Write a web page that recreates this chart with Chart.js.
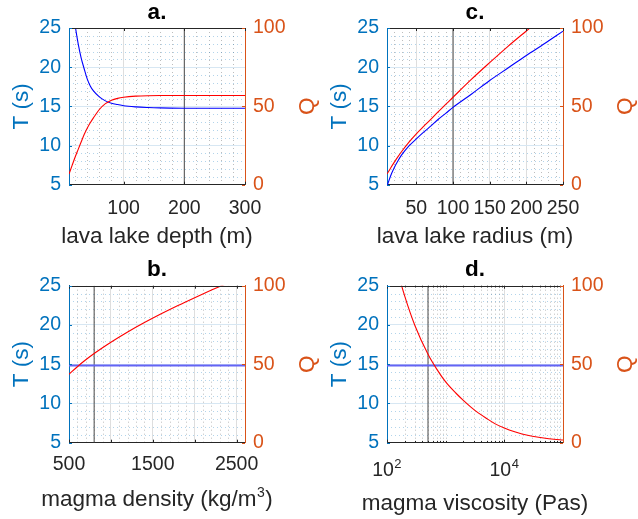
<!DOCTYPE html>
<html>
<head>
<meta charset="utf-8">
<script src="https://cdn.jsdelivr.net/npm/chart.js@4.4.0/dist/chart.umd.min.js"></script>
<style>
html,body{margin:0;padding:0;background:#ffffff;}
#wrap{position:relative;width:638px;height:519px;overflow:hidden;}
#wrap canvas{position:absolute;left:0;top:0;}
</style>
</head>
<body>
<div id="wrap">
<canvas id="pa" width="638" height="519"></canvas>
<canvas id="pc" width="638" height="519"></canvas>
<canvas id="pb" width="638" height="519"></canvas>
<canvas id="pd" width="638" height="519"></canvas>
</div>
<script>
// ---------- data ----------
// a. lava lake depth (m)
const depthX = [10,15,20,25,30,35,40,45,50,60,70,80,90,100,120,140,160,200,250,300];
const depthT = [32.3,28.4,25.4,23.05,21.2,19.8,18.5,17.6,17.0,16.2,15.7,15.4,15.23,15.08,14.93,14.85,14.8,14.76,14.75,14.75];
const depthQ = [6.8,12.2,17.5,22.4,27.2,32.0,36.0,39.5,42.5,48.0,51.7,53.9,55.1,55.8,56.5,56.8,56.9,56.9,56.9,56.9];
const depthMarker = 200;
const depthTicks = [100,200,300];
const depthTickLabels = ['100','200','300'];

// c. lava lake radius (m)
const radiusX = [10,15,20,25,30,40,50,60,70,80,90,100,125,150,175,200,225,250];
const radiusT = [4.8,6.15,7.2,8.05,8.8,9.95,10.85,11.7,12.5,13.35,14.1,14.87,16.55,18.3,19.9,21.5,23.02,24.6];
const radiusQ = [6.8,10.7,14.4,17.9,21.2,27.2,32.5,37.2,41.8,46.6,51.2,55.8,67.2,77.9,88.3,98.1,107.8,117];
const radiusMarker = 100;
const radiusTicks = [50,100,150,200,250];
const radiusTickLabels = ['50','100','150','200','250'];

// b. magma density (kg/m3)
const densityX = [500,600,700,800,900,1000,1200,1400,1600,1800,2000,2200,2400,2600];
const densityT = [14.85,14.85,14.85,14.85,14.85,14.85,14.85,14.85,14.85,14.85,14.85,14.85,14.85,14.85];
const densityQ = [43.6,48.4,52.8,56.8,60.5,64.0,70.5,76.5,82.1,87.4,92.4,97.2,101.8,106.2];
const densityMarker = 800;
const densityTicks = [500,1000,1500,2000,2500];
const densityTickLabels = ['500','','1500','','2500'];

// d. magma viscosity (Pas)
const viscX = [100,150,200,300,500,700,1000,1500,2000,3000,5000,7000,10000,15000,20000,30000,50000,70000,100000];
const viscT = [14.85,14.85,14.85,14.85,14.85,14.85,14.85,14.85,14.85,14.85,14.85,14.85,14.85,14.85,14.85,14.85,14.85,14.85,14.85];
const viscQ = [138,110,93.5,74.5,56.3,47.0,38.7,31.5,27.0,21.2,15.4,12.0,9.4,6.95,5.5,4.1,2.8,2.2,1.7];
const viscMarker = 500;
const viscTicks = [100,10000];
const viscTickLabels = ['10','10'];
const viscTickExponents = ['2','4'];

const tTicks = [5,10,15,20,25];
const tTickLabels = ['5','10','15','20','25'];
const qTicks = [0,50,100];
const qTickLabels = ['0','50','100'];

// ---------- style ----------
const FONT = "'Liberation Sans', Arial, Helvetica, sans-serif";
const BLUE_AX = '#0072BD';
const ORANGE_AX = '#D95319';
const DARK = '#262626';
const TICK_SIZE = 19.5;
const LABEL_SIZE = 22.5;

function range(a, b, step, skip) {
  const out = [];
  for (let v = a; v <= b + 1e-9; v += step) {
    if (!skip || !skip(v)) out.push(v);
  }
  return out;
}
const tMinor = range(6, 24, 1, v => v % 5 === 0);
const logMinor = [];
[100, 1000, 10000].forEach(d => { for (let m = 2; m <= 9; m++) logMinor.push(d * m); });
logMinor.push(1000);

const matlabFrame = {
  id: 'matlabFrame',
  beforeDatasetsDraw(chart, args, o) {
    const {ctx, chartArea: a, scales} = chart;
    const x = scales.x, y = scales.y;
    ctx.save();
    ctx.beginPath();
    ctx.rect(a.left, a.top, a.right - a.left, a.bottom - a.top);
    ctx.clip();
    ctx.lineWidth = 1;
    ctx.setLineDash([1, 3]);
    ctx.strokeStyle = 'rgba(38,38,38,0.30)';
    o.xMinor.forEach(v => {
      const p = Math.round(x.getPixelForValue(v)) + 0.5;
      ctx.beginPath(); ctx.moveTo(p, a.top); ctx.lineTo(p, a.bottom); ctx.stroke();
    });
    ctx.strokeStyle = 'rgba(0,114,189,0.30)';
    o.yMinor.forEach(v => {
      const p = Math.round(y.getPixelForValue(v)) + 0.5;
      ctx.beginPath(); ctx.moveTo(a.left, p); ctx.lineTo(a.right, p); ctx.stroke();
    });
    ctx.restore();
  },
  afterDatasetsDraw(chart, args, o) {
    const {ctx, chartArea: a, scales} = chart;
    const x = scales.x, y = scales.y, y1 = scales.y1;
    ctx.save();
    ctx.lineWidth = 1;
    ctx.strokeStyle = DARK;
    ctx.beginPath();
    ctx.moveTo(a.left, Math.round(a.top) + 0.5);
    ctx.lineTo(a.right, Math.round(a.top) + 0.5);
    ctx.stroke();
    const tick = (px, len, top) => {
      const p = Math.round(px) + 0.5;
      ctx.beginPath();
      if (top) { ctx.moveTo(p, a.top); ctx.lineTo(p, a.top + len); }
      else { ctx.moveTo(p, a.bottom); ctx.lineTo(p, a.bottom - len); }
      ctx.stroke();
    };
    o.xMajor.forEach(v => { const px = x.getPixelForValue(v); tick(px, 3, true); tick(px, 3, false); });
    (o.xMinorTicks || []).forEach(v => { const px = x.getPixelForValue(v); tick(px, 1.8, true); tick(px, 1.8, false); });
    ctx.strokeStyle = BLUE_AX;
    tTicks.forEach(v => {
      const p = Math.round(y.getPixelForValue(v)) + 0.5;
      ctx.beginPath(); ctx.moveTo(a.left, p); ctx.lineTo(a.left + 3, p); ctx.stroke();
    });
    ctx.strokeStyle = ORANGE_AX;
    qTicks.forEach(v => {
      const p = Math.round(y1.getPixelForValue(v)) + 0.5;
      ctx.beginPath(); ctx.moveTo(a.right, p); ctx.lineTo(a.right - 3, p); ctx.stroke();
    });
    ctx.restore();
  },
  afterDraw(chart, args, o) {
    const {ctx, chartArea: a, scales} = chart;
    const cx = (a.left + a.right) / 2;
    const cy = (a.top + a.bottom) / 2;
    ctx.save();
    // panel title
    ctx.font = 'bold ' + LABEL_SIZE + 'px ' + FONT;
    ctx.fillStyle = '#000000';
    ctx.textAlign = 'left';
    ctx.textBaseline = 'alphabetic';
    ctx.fillText(o.title, cx - ctx.measureText(o.title).width / 2, a.top - 9.5);
    // x axis label, with optional superscript part
    const mainFont = LABEL_SIZE + 'px ' + FONT;
    const supFont = '14px ' + FONT;
    ctx.fillStyle = DARK;
    ctx.font = mainFont;
    const w1 = ctx.measureText(o.xTitle).width;
    const tail = o.xTitleTail || '';
    const w3 = ctx.measureText(tail).width;
    ctx.font = supFont;
    const sup = o.xTitleSup || '';
    const w2 = sup ? ctx.measureText(sup).width + 1 : 0;
    let lx = cx - (w1 + w2 + w3) / 2;
    const by = a.bottom + o.xTitleBase;
    ctx.font = mainFont;
    ctx.fillText(o.xTitle, lx, by);
    if (sup) {
      ctx.font = supFont;
      ctx.fillText(sup, lx + w1 + 0.5, by - 9);
      ctx.font = mainFont;
      ctx.fillText(tail, lx + w1 + w2, by);
    }
    // exponents of log tick labels
    if (o.xExp) {
      ctx.font = TICK_SIZE + 'px ' + FONT;
      const baseW = ctx.measureText('10').width;
      ctx.font = '13px ' + FONT;
      o.xMajor.forEach((v, i) => {
        const px = scales.x.getPixelForValue(v) + o.xLabelOffset;
        ctx.fillText(o.xExp[i], px + baseW / 2 + 0.5, a.bottom + 25.5);
      });
    }
    // right axis label (rotated like the left one)
    ctx.font = LABEL_SIZE + 'px ' + FONT;
    ctx.translate(a.right + 63, cy);
    ctx.rotate(-Math.PI / 2);
    ctx.fillStyle = ORANGE_AX;
    ctx.textAlign = 'center';
    ctx.textBaseline = 'middle';
    ctx.fillText('Q', 0, 0);
    ctx.restore();
  }
};
Chart.register(matlabFrame);

function edgeless(color, min, max) {
  return ctx => {
    const v = ctx.tick ? ctx.tick.value : null;
    if (v === null || Math.abs(v - min) < 1e-9 || Math.abs(v - max) < 1e-9) return 'rgba(0,0,0,0)';
    return color;
  };
}

function makePanel(id, p) {
  const toPts = (xs, ys) => xs.map((x, i) => ({x: x, y: ys[i]}));
  const labelFor = v => {
    const i = p.xTicks.indexOf(v);
    return i >= 0 ? p.xTickLabels[i] : '';
  };
  return new Chart(document.getElementById(id), {
    type: 'line',
    data: {
      datasets: [
        {label: 'Q', data: toPts(p.X, p.Q), yAxisID: 'y1', borderColor: '#ff0000', borderWidth: 1.1,
         pointRadius: 0, cubicInterpolationMode: 'monotone', fill: false, clip: 0},
        {label: 'T', data: toPts(p.X, p.T), yAxisID: 'y', borderColor: p.blueColor, borderWidth: p.blueWidth,
         pointRadius: 0, cubicInterpolationMode: 'monotone', fill: false, clip: 0},
        {label: 'marker', data: [{x: p.marker, y: 5}, {x: p.marker, y: 25}], yAxisID: 'y',
         borderColor: '#4a4a4a', borderWidth: 1, pointRadius: 0, fill: false, clip: 0}
      ]
    },
    options: {
      responsive: false,
      animation: false,
      devicePixelRatio: 1,
      events: [],
      layout: {padding: p.pad},
      plugins: {
        legend: {display: false},
        tooltip: {enabled: false},
        title: {display: false},
        matlabFrame: {title: p.title, xTitle: p.xTitle, xTitleSup: p.xTitleSup, xTitleTail: p.xTitleTail,
                      xTitleBase: p.xTitleBase, xExp: p.xExp, xLabelOffset: p.xLabelOffset || 0,
                      xMinor: p.xMinor, yMinor: tMinor, xMajor: p.xTicks, xMinorTicks: p.xMinorTicks}
      },
      scales: {
        x: {
          type: p.xType, position: 'bottom', min: p.xMin, max: p.xMax,
          afterBuildTicks: s => { s.ticks = p.xTicks.map(v => ({value: v})); },
          ticks: {autoSkip: false, maxRotation: 0, minRotation: 0, color: DARK,
                  font: {family: FONT, size: TICK_SIZE}, padding: p.xTickPad,
                  labelOffset: p.xLabelOffset || 0, callback: v => labelFor(v)},
          grid: {color: edgeless('rgb(222,222,222)', p.xMin, p.xMax), drawTicks: false, lineWidth: 1},
          border: {color: DARK, width: 1},
          title: {display: false},
          afterFit: s => { s.height = 74; }
        },
        y: {
          type: 'linear', position: 'left', min: 5, max: 25,
          afterBuildTicks: s => { s.ticks = tTicks.map(v => ({value: v})); },
          ticks: {color: BLUE_AX, font: {family: FONT, size: TICK_SIZE}, padding: 8,
                  callback: v => tTickLabels[tTicks.indexOf(v)]},
          grid: {color: edgeless('rgb(215,231,243)', 5, 25), drawTicks: false, lineWidth: 1},
          border: {color: BLUE_AX, width: 1},
          title: {display: true, text: 'T (s)', color: BLUE_AX, font: {family: FONT, size: LABEL_SIZE},
                  padding: {top: 8.5, bottom: 0}},
          afterFit: s => { s.width = 69; }
        },
        y1: {
          type: 'linear', position: 'right', min: 0, max: 100,
          afterBuildTicks: s => { s.ticks = qTicks.map(v => ({value: v})); },
          ticks: {color: ORANGE_AX, font: {family: FONT, size: TICK_SIZE}, padding: 8,
                  callback: v => qTickLabels[qTicks.indexOf(v)]},
          grid: {drawOnChartArea: false, drawTicks: false},
          border: {color: ORANGE_AX, width: 1},
          title: {display: false},
          afterFit: s => { s.width = p.wr; }
        }
      }
    }
  });
}

makePanel('pa', {
  title: 'a.', X: depthX, T: depthT, Q: depthQ, marker: depthMarker,
  xType: 'linear', xMin: 10, xMax: 300, xTicks: depthTicks, xTickLabels: depthTickLabels,
  xMinor: range(20, 280, 20, v => v % 100 === 0),
  xTitle: 'lava lake depth (m)', xTitleBase: 58.6, xTickPad: 11.8,
  pad: {left: 0, top: 28, right: 313, bottom: 260.3}, wr: 80,
  blueColor: '#0000ff', blueWidth: 1.1
});
makePanel('pc', {
  title: 'c.', X: radiusX, T: radiusT, Q: radiusQ, marker: radiusMarker,
  xType: 'linear', xMin: 10, xMax: 250, xTicks: radiusTicks, xTickLabels: radiusTickLabels,
  xMinor: range(20, 240, 10, v => v % 50 === 0),
  xTitle: 'lava lake radius (m)', xTitleBase: 58.6, xTickPad: 11.8,
  pad: {left: 318, top: 28, right: 0, bottom: 260.3}, wr: 75,
  blueColor: '#0000ff', blueWidth: 1.1
});
makePanel('pb', {
  title: 'b.', X: densityX, T: densityT, Q: densityQ, marker: densityMarker,
  xType: 'linear', xMin: 500, xMax: 2600, xTicks: densityTicks, xTickLabels: densityTickLabels,
  xMinor: range(600, 2500, 100, v => v % 500 === 0),
  xTitle: 'magma density (kg/m', xTitleSup: '3', xTitleTail: ')', xTitleBase: 63, xTickPad: 10.6,
  pad: {left: 0, top: 285.7, right: 313, bottom: 2.3}, wr: 80,
  blueColor: '#6464f5', blueWidth: 2
});
makePanel('pd', {
  title: 'd.', X: viscX, T: viscT, Q: viscQ, marker: viscMarker,
  xType: 'logarithmic', xMin: 100, xMax: 100000, xTicks: viscTicks, xTickLabels: viscTickLabels,
  xExp: viscTickExponents, xLabelOffset: -4,
  xMinor: logMinor, xMinorTicks: logMinor,
  xTitle: 'magma viscosity (Pas)', xTitleBase: 67.3, xTickPad: 16.6,
  pad: {left: 318, top: 285.7, right: 0, bottom: 2.3}, wr: 75,
  blueColor: '#6464f5', blueWidth: 2
});
</script>
</body>
</html>
